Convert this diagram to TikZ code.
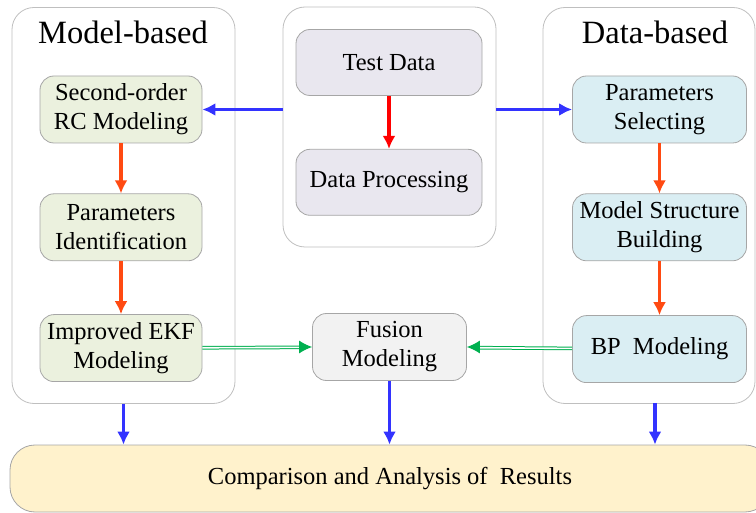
\documentclass[tikz,border=0pt]{standalone}
\usepackage{fontspec}
\setmainfont{Liberation Serif}
\usetikzlibrary{positioning,arrows.meta,calc}

\definecolor{grpline}{HTML}{BFBFBF}
\definecolor{boxline}{HTML}{A6A6A6}
\definecolor{mfill}{HTML}{EBF1DE}
\definecolor{dfill}{HTML}{DAEEF3}
\definecolor{tfill}{HTML}{E9E7EF}
\definecolor{ffill}{HTML}{F2F2F2}
\definecolor{rfill}{HTML}{FFF2CC}
\definecolor{flowblue}{HTML}{3333FF}
\definecolor{floworange}{HTML}{FF4A12}
\definecolor{flowred}{HTML}{FF0000}
\definecolor{flowgreen}{HTML}{00B050}

\begin{document}
\begin{tikzpicture}[x=1pt, y=-1pt,
    font=\fontsize{24.5}{29}\selectfont, node distance=50pt,
    group/.style={draw=grpline, line width=0.8pt, rounded corners=22pt, inner sep=0pt},
    title/.style={font=\fontsize{32.5}{36}\selectfont},
    box/.style={draw=boxline, line width=0.8pt, rounded corners=14pt,
                minimum height=67pt, inner sep=1pt, align=center},
    mbox/.style={box, fill=mfill, minimum width=162pt},
    dbox/.style={box, fill=dfill, minimum width=174pt},
    tbox/.style={box, fill=tfill, minimum width=186pt, minimum height=66pt},
    barr/.style={flowblue, line width=3.4pt, -{Latex[length=13pt,width=13pt]}},
    oarr/.style={floworange, line width=3.4pt, -{Latex[length=13pt,width=13pt]}},
    rarr/.style={flowred, line width=3.4pt, -{Latex[length=13pt,width=13pt]}},
    gline/.style={flowgreen, line width=1pt, double=white, double distance=1.6pt,
                  shorten >=11pt},
    gtip/.style={flowgreen, line width=1pt, -{Latex[length=13pt,width=13pt]}}
  ]
    \useasboundingbox (0,0) rectangle (756,513);

    % three groups
    \node[group, minimum width=223pt, minimum height=396pt] (mgrp) at (123.5,205.5) {};
    \node[group, minimum width=213pt, minimum height=240pt] (tgrp) at (389.5,127) {};
    \node[group, minimum width=212pt, minimum height=396pt] (dgrp) at (649,205.5) {};
    \node[title] (mtitle) at (123,32) {Model-based};
    \node[title] (dtitle) at (655,32) {Data-based};

    % model-based chain
    \node[mbox] (rc) at (121,109.5) {Second-order\\RC Modeling};
    \node[mbox, below=50pt of rc] (ident) {Parameters\\Identification};
    \node[mbox, below=53pt of ident] (ekf) {Improved EKF\\Modeling};

    % data chain
    \node[tbox] (test) at (389,62.5) {Test Data};
    \node[tbox, below=53pt of test] (proc) {Data Processing};

    % data-based chain
    \node[dbox] (sel) at (659.5,109.5) {Parameters\\Selecting};
    \node[dbox, below=50pt of sel] (struct) {Model Structure\\Building};
    \node[dbox, below=54pt of struct] (bp) {BP\ \ Modeling};

    \node[box, fill=ffill, minimum width=154pt] (fus) at (389.5,347) {Fusion\\Modeling};
    \node[box, fill=rfill, rounded corners=25pt, minimum width=760pt] (res) at (390,478.5)
      {Comparison and Analysis of\ \ Results};
    \coordinate (dout) at (655,403);

    \draw[rarr] (test) -- (proc);
    \draw[barr] (tgrp.west |- rc) -- (rc.east);
    \draw[barr] (tgrp.east |- sel) -- (sel.west);
    \draw[oarr] (rc) -- (ident);
    \draw[oarr] (ident) -- (ekf);
    \draw[oarr] (sel) -- (struct);
    \draw[oarr] (struct) -- (bp);
    % green double links into the fusion box
    \draw[gline] (ekf) -- (fus);
    \draw[gtip] ($(fus.west)+(-13,0)$) -- (fus.west);
    \draw[gline] (bp) -- (fus);
    \draw[gtip] ($(fus.east)+(13,0)$) -- (fus.east);
    \draw[barr] (mgrp.south) -- (mgrp.south |- res.north);
    \draw[barr] (fus) -- (fus |- res.north);
    \draw[barr] (dout) -- (dout |- res.north);
\end{tikzpicture}
\end{document}
